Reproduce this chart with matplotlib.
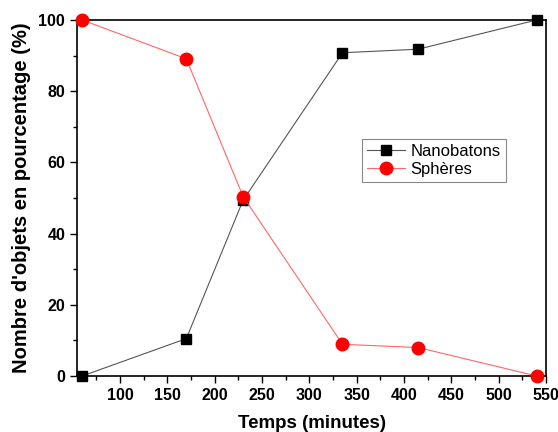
import matplotlib.pyplot as plt
from matplotlib.ticker import MultipleLocator

plt.rcParams['font.family'] = ['Liberation Sans', 'DejaVu Sans']

# données
temps = [60, 170, 230, 335, 415, 540]
nanobatons = [0, 10.5, 49.4, 90.8, 91.8, 100]
spheres = [100, 89.1, 50.4, 8.9, 8.0, 0]

fig = plt.figure(figsize=(5.58, 4.32), dpi=100)
ax = fig.add_axes([77 / 558, 1 - 376 / 432, 469 / 558, 356 / 432])

ax.plot(temps, nanobatons, color="#555555", linewidth=0.8, marker="s",
        markersize=7, markerfacecolor="black", markeredgecolor="black",
        label="Nanobatons", clip_on=False, zorder=3)
ax.plot(temps, spheres, color="#ff6666", linewidth=0.8, marker="o",
        markersize=9, markerfacecolor="red", markeredgecolor="red",
        label="Sphères", clip_on=False, zorder=3)

ax.set_xlim(54.5, 550)
ax.set_ylim(0, 100)
ax.xaxis.set_minor_locator(MultipleLocator(25))
ax.yaxis.set_major_locator(MultipleLocator(20))
ax.yaxis.set_minor_locator(MultipleLocator(10))
ax.set_xticks([100, 150, 200, 250, 300, 350, 400, 450, 500, 550])
ax.tick_params(which="both", direction="out", top=False, right=False)
ax.tick_params(which="major", length=5, width=1, labelsize=11.5)
ax.tick_params(which="minor", length=3, width=1)
for lab in ax.get_xticklabels() + ax.get_yticklabels():
    lab.set_fontweight("bold")
for s in ax.spines.values():
    s.set_linewidth(1.2)

ax.set_xlabel("Temps (minutes)", fontsize=13.5, fontweight="bold", labelpad=9)
ax.set_ylabel("Nombre d'objets en pourcentage (%)", fontsize=14.5,
              fontweight="bold", labelpad=5)

leg = ax.legend(loc="upper left", bbox_to_anchor=(0.59, 0.69), fontsize=12,
                fancybox=False, framealpha=1, edgecolor="#888888",
                handlelength=2.3, borderpad=0.3, labelspacing=0.2,
                handletextpad=0.3)
leg.get_frame().set_linewidth(0.8)

fig.savefig("out.png", dpi=100)
